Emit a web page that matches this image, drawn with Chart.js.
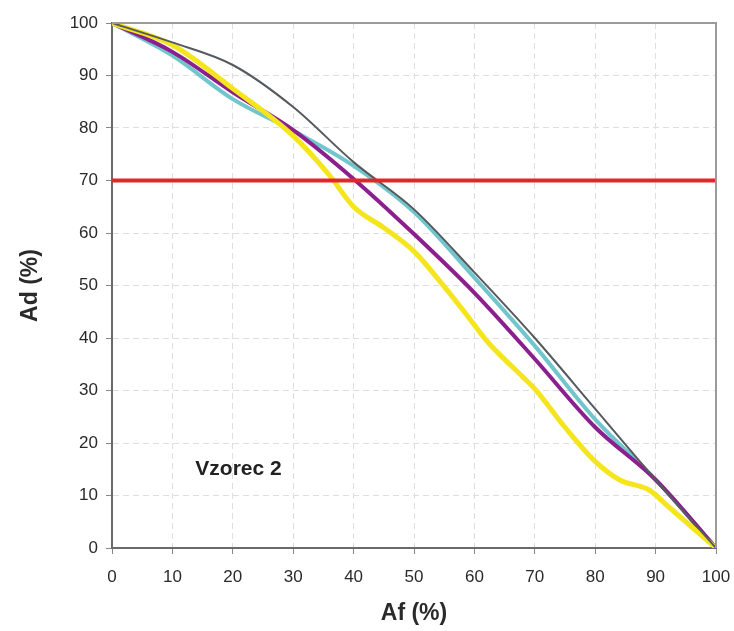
<!DOCTYPE html>
<html>
<head>
<meta charset="utf-8">
<script src="https://cdn.jsdelivr.net/npm/chart.js@4"></script>
<style>
  html, body { margin: 0; padding: 0; background: #fff; }
  #grafico { display: block; }
</style>
</head>
<body>
<canvas id="grafico" width="734" height="631"></canvas>
<script>
// values
const afValores = [0, 10, 20, 30, 40, 50, 60, 70, 80, 90, 100];
const serieCinza = [100, 96.3, 92, 84, 73.5, 64.5, 52.5, 40, 26.5, 13, 0];
const serieAzul = [100, 93.8, 85.5, 79.5, 72.8, 64, 51.5, 38.5, 24.5, 13, 0];
const serieRoxa = [100, 94.5, 86.8, 79.6, 70.3, 59.8, 48.6, 36, 23, 13, 0];

const afAmarela = [0, 10, 20, 30, 36, 40, 45, 50, 54.3, 58.8, 62, 64.5, 68, 70, 75, 80, 84, 89, 92, 100];
const serieAmarela = [100, 95.8, 87.5, 78.5, 71, 65, 61, 56.5, 50.8, 44.3, 39.5, 36.5, 32.6, 30.3, 23, 16.5, 13, 11, 8, 0];

const limiteAf = [0, 100];
const limiteAd = [70, 70];

const ticksEixo = [0, 10, 20, 30, 40, 50, 60, 70, 80, 90, 100];
const textoVzorec = 'Vzorec 2';
const posVzorec = [13.8, 15];

function pares(xs, ys) {
    return xs.map((x, i) => ({ x: x, y: ys[i] }));
}

// box on top/right + label inside the plot
const extras = {
    id: 'extras',
    afterDatasetsDraw(chart) {
        const c = chart.ctx;
        const a = chart.chartArea;
        c.save();
        c.strokeStyle = '#9a9a9a';
        c.lineWidth = 2;
        c.beginPath();
        c.moveTo(a.left, a.top);
        c.lineTo(a.right, a.top);
        c.lineTo(a.right, a.bottom);
        c.stroke();

        const px = chart.scales.x.getPixelForValue(posVzorec[0]);
        const py = chart.scales.y.getPixelForValue(posVzorec[1]);
        c.fillStyle = '#222';
        c.font = 'bold 21px "Liberation Sans", Arial, sans-serif';
        c.textBaseline = 'middle';
        c.textAlign = 'left';
        c.fillText(textoVzorec, px, py);
        c.restore();
    }
};

const linhaBase = {
    showLine: true,
    pointRadius: 0,
    fill: false,
    cubicInterpolationMode: 'monotone'
};

const data = {
    datasets: [
        Object.assign({}, linhaBase, {
            label: 'azul',
            data: pares(afValores, serieAzul),
            borderColor: '#70c6cc',
            borderWidth: 4,
            order: 5
        }),
        Object.assign({}, linhaBase, {
            label: 'roxa',
            data: pares(afValores, serieRoxa),
            borderColor: '#8c1f8e',
            borderWidth: 4,
            order: 4
        }),
        Object.assign({}, linhaBase, {
            label: 'amarela',
            data: pares(afAmarela, serieAmarela),
            borderColor: '#f4e51c',
            borderWidth: 5,
            order: 3
        }),
        Object.assign({}, linhaBase, {
            label: 'cinza',
            data: pares(afValores, serieCinza),
            borderColor: '#555a5e',
            borderWidth: 2,
            order: 2
        }),
        Object.assign({}, linhaBase, {
            label: 'limite',
            data: pares(limiteAf, limiteAd),
            borderColor: '#e3262a',
            borderWidth: 4,
            cubicInterpolationMode: 'default',
            order: 1
        })
    ]
};

const config = {
    type: 'scatter',
    data: data,
    options: {
        responsive: false,
        animation: false,
        layout: {
            padding: { left: 0, right: 18, top: 23, bottom: 0 }
        },
        plugins: {
            legend: { display: false },
            tooltip: { enabled: false }
        },
        scales: {
            x: {
                type: 'linear',
                min: 0,
                max: 100,
                afterFit(scale) {
                    scale.height = 83;
                    scale.paddingLeft = 0;
                    scale.paddingRight = 0;
                },
                afterBuildTicks(scale) { scale.ticks = ticksEixo.map(v => ({ value: v })); },
                border: { color: '#6a6a6a', width: 2, dash: [6, 4] },
                grid: {
                    color: '#dedede',
                    tickColor: '#888',
                    tickLength: 6,
                    tickBorderDash: []
                },
                ticks: {
                    color: '#2a2a2a',
                    padding: 13,
                    maxRotation: 0,
                    font: { family: '"Liberation Sans", Arial', size: 17 }
                },
                title: {
                    display: true,
                    text: 'Af (%)',
                    color: '#2a2a2a',
                    padding: { top: 0, bottom: 4 },
                    font: { family: '"Liberation Sans", Arial', size: 23, weight: 'bold' }
                }
            },
            y: {
                type: 'linear',
                min: 0,
                max: 100,
                afterFit(scale) {
                    scale.width = 112;
                    scale.paddingTop = 0;
                    scale.paddingBottom = 0;
                },
                afterBuildTicks(scale) { scale.ticks = ticksEixo.map(v => ({ value: v })); },
                border: { color: '#6a6a6a', width: 2, dash: [6, 4] },
                grid: {
                    color: '#dedede',
                    tickColor: '#888',
                    tickLength: 6,
                    tickBorderDash: []
                },
                ticks: {
                    color: '#2a2a2a',
                    padding: 8,
                    font: { family: '"Liberation Sans", Arial', size: 17 }
                },
                title: {
                    display: true,
                    text: 'Ad (%)',
                    color: '#2a2a2a',
                    padding: { top: 17, bottom: 0 },
                    font: { family: '"Liberation Sans", Arial', size: 23, weight: 'bold' }
                }
            }
        }
    },
    plugins: [extras]
};

const grafico = new Chart(document.getElementById('grafico'), config);
</script>
</body>
</html>
